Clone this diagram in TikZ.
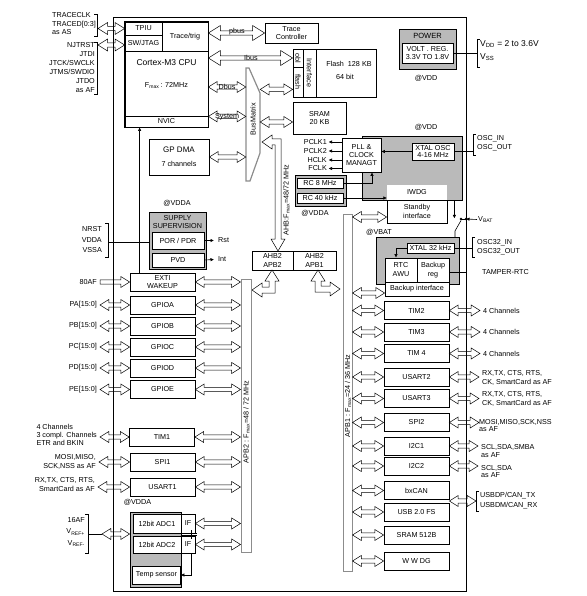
\documentclass[tikz,border=0pt]{standalone}
\usepackage{fontspec}
\setmainfont{Liberation Sans}
\usetikzlibrary{calc,arrows.meta}

\tikzset{
  blk/.style={draw, line width=0.8pt, inner sep=0pt, align=center},
  grayblk/.style={draw, line width=0.8pt, fill=black!27, inner sep=0pt},
  periph/.style={blk, minimum width=65, minimum height=18},
  lbl/.style={inner sep=0pt, align=center},
  llbl/.style={lbl, anchor=east, align=right, inner xsep=3pt},
  rlbl/.style={lbl, anchor=west, align=left, inner xsep=3pt},
  fat/.style={draw, line width=0.5pt},
  sig/.style={line width=0.6pt, -{Latex[length=3.5pt,width=3.5pt]}},
  brk/.style={line width=0.6pt},
  apbbar/.style={draw=black!45, line width=1pt, inner sep=0pt},
}

% hollow double arrow: [head half height]{left end}{right end}
\newcommand{\fatarrow}[3][5.5]{%
  \draw[fat] let \p1=#2, \p2=#3 in
    (\x1,\y1) -- ({\x1+1.6*#1pt},{\y1+#1pt}) -- ({\x1+1.6*#1pt},{\y1+2.2pt})
    -- ({\x2-1.6*#1pt},{\y1+2.2pt}) -- ({\x2-1.6*#1pt},{\y1+#1pt})
    -- (\x2,\y1) -- ({\x2-1.6*#1pt},{\y1-#1pt}) -- ({\x2-1.6*#1pt},{\y1-2.2pt})
    -- ({\x1+1.6*#1pt},{\y1-2.2pt}) -- ({\x1+1.6*#1pt},{\y1-#1pt}) -- cycle;}
% hollow single arrow
\newcommand{\fatarrowr}[2]{%
  \draw[fat] let \p1=#1, \p2=#2 in
    (\x1,{\y1+2.2pt}) -- ({\x2-8.8pt},{\y1+2.2pt}) -- ({\x2-8.8pt},{\y1+5.5pt})
    -- (\x2,\y1) -- ({\x2-8.8pt},{\y1-5.5pt}) -- ({\x2-8.8pt},{\y1-2.2pt})
    -- (\x1,{\y1-2.2pt}) -- cycle;}

\begin{document}
\begin{tikzpicture}[x=1pt,y=-1pt,font=\fontsize{7.2}{8.4}\selectfont]
\useasboundingbox (0,0) rectangle (586,596);

% outer frame
\draw[line width=0.8pt] (113,17) rectangle (466,591);

% CPU
\node[blk, minimum width=37, minimum height=13] (tpiu) at (143.5,28.5) {TPIU};
\node[blk, minimum width=37, minimum height=16] (swjtag) at (143.5,43) {SW/JTAG};
\node[blk, minimum width=46, minimum height=29] (trace) at (185,36.5) {Trace/trig};
\node[blk, minimum width=83, minimum height=65] (cpu) at (166.5,83.5) {};
\node[lbl, font=\fontsize{8.5}{10}\selectfont] (cpuname) at (166.5,63) {Cortex-M3 CPU};
\node[lbl] (cpufreq) at (166.5,86) {F\textsubscript{max}\,: 72MHz};
\node[blk, minimum width=83, minimum height=11] (nvic) at (166.5,121.5) {NVIC};
\draw[line width=1.4pt] (tpiu.north west) rectangle (nvic.south east);

% trace / jtag pins
\node[lbl, anchor=north west, align=left] (tracepins) at (52,12.5) {TRACECLK\\TRACED[0:3]\\as AS};
\draw[brk] (94,14) -- (97,14) -- (97,36) -- (94,36);
\coordinate (tracebr) at (98,28.5);
\fatarrow[6]{(tracebr)}{(tpiu.west)}
\node[lbl, anchor=east, align=right, font=\fontsize{7.2}{9}\selectfont] (jtagpins) at (95,67.5) {NJTRST\\JTDI\\JTCK/SWCLK\\JTMS/SWDIO\\JTDO\\as AF};
\draw[brk] (94,42) -- (97,42) -- (97,94) -- (94,94);
\coordinate (jtagbr) at (98,45);
\fatarrow[6]{(jtagbr)}{(jtagbr -| swjtag.west)}

% trace controller, flash, sram
\node[blk, minimum width=53, minimum height=20, font=\fontsize{7.2}{8}\selectfont] (tracectrl) at (291.5,33) {Trace\\Controller};
\fatarrow[7.5]{(tracectrl.west -| trace.east)}{(tracectrl.west)}
\node[lbl] (pbus) at (237,32) {pbus};

\node[blk, minimum width=83, minimum height=48] (flash) at (334.5,73) {};
\node[blk, minimum width=10, minimum height=18] (obl) at (298,58) {};
\node[lbl, rotate=-90] (obltxt) at (obl) {obl};
\node[blk, minimum width=10, minimum height=30] (flashif) at (298,82) {};
\node[lbl, rotate=-90] (flashtxt) at (flashif) {flash};
\node[blk, minimum width=13, minimum height=48] (iface) at (309.5,73) {};
\node[lbl, rotate=-90] (ifacetxt) at (iface) {Interface};
\node[lbl] (flashsize) at (349,64) {Flash\ \ 128 KB};
\node[lbl] (flashbits) at (345,77) {64 bit};
\fatarrow[7.5]{(obl.west -| cpu.east)}{(obl.west)}
\node[lbl] (ibus) at (251,57.5) {Ibus};

\node[blk, minimum width=53, minimum height=32] (sram) at (319.5,118) {SRAM\\20 KB};

% bus matrix
\node[minimum width=14, minimum height=113, inner sep=0pt] (bm) at (253,124.5) {};
\draw[draw=black!45, line width=1.2pt] (246,68) -- (249,68) -- (260,93) -- (260,153) -- (250,181) -- (246,181) -- cycle;
\node[lbl, rotate=90] (bmtxt) at (253,119) {BusMatrix};

\coordinate (dbus) at ([yshift=-3.5pt]cpu.east);
\fatarrow{(dbus)}{(dbus -| bm.west)}
\node[lbl] (dbustxt) at (227,87) {Dbus};
\fatarrow{(cpu.south east)}{(cpu.south east -| bm.west)}
\node[lbl] (systxt) at (227,116.5) {System};
\coordinate (flashin) at ([yshift=8pt]flash.south west);
\fatarrow{(flashin -| bm.east)}{(flashin)}
\coordinate (sramin) at ([yshift=-4pt]sram.west);
\fatarrow{(sramin -| bm.east)}{(sramin)}

% DMA
\node[blk, minimum width=60, minimum height=36] (dma) at (179,157) {};
\node[lbl, font=\fontsize{8}{9}\selectfont] (dmaname) at (179,150) {GP DMA};
\node[lbl] (dmach) at (179,163.5) {7 channels};
\fatarrow{(dma.east)}{(dma.east -| bm.west)}

% AHB to bridges
\draw[fat] (262,142) -- (272,135) -- (272,139) -- (281,139) -- (281,239) -- (285,239) -- (278,251) -- (271,239) -- (275,239) -- (275,145) -- (272,145) -- (272,149) -- cycle;
\node[lbl, rotate=90] (ahbtxt) at (286.5,200) {AHB:F\textsubscript{max}=48/72 MHz};
\node[blk, minimum width=41, minimum height=19, font=\fontsize{7.2}{8.5}\selectfont] (ahbtwo) at (272.5,260.5) {AHB2\\APB2};
\node[blk, minimum width=43, minimum height=19, font=\fontsize{7.2}{8.5}\selectfont] (ahbone) at (314.5,260.5) {AHB2\\APB1};
\draw[fat] (272,270) -- (279,281) -- (275,281) -- (275,293) -- (262,293) -- (262,297) -- (252,290) -- (262,283) -- (262,287) -- (269,287) -- (269,281) -- (265,281) -- cycle;
\draw[fat] (318,270) -- (325,281) -- (321,281) -- (321,286) -- (330,286) -- (330,282) -- (340,289) -- (330,296) -- (330,292) -- (315,292) -- (315,281) -- (311,281) -- cycle;

% APB bars
\node[apbbar, minimum width=10, minimum height=273] (apbtwo) at (246,415.5) {};
\node[lbl, rotate=90] (apbtwotxt) at (246.5,422) {APB2 : F\textsubscript{max}=48 / 72 MHz};
\node[apbbar, minimum width=9, minimum height=357] (apbone) at (347.5,392.5) {};
\node[lbl, rotate=90] (apbonetxt) at (348,396) {APB1 : F\textsubscript{max}=24 / 36 MHz};

% power
\node[grayblk, minimum width=57, minimum height=40] (power) at (427.5,49) {};
\node[lbl, font=\fontsize{7.5}{9}\selectfont] (powertxt) at (427.5,36) {POWER};
\node[blk, fill=white, minimum width=51, minimum height=20, font=\fontsize{7.2}{8}\selectfont] (vreg) at (427.5,53) {VOLT . REG.\\3.3V TO 1.8V};
\draw[brk] (480,39) -- (477,39) -- (477,67) -- (480,67);
\coordinate (pwrbr) at (477,53);
\draw[brk] (vreg.east) -- (pwrbr);
\node[lbl, anchor=west, align=left, font=\fontsize{8.5}{13}\selectfont] (vdd) at (480,50.5) {V\textsubscript{DD} = 2 to 3.6V\\V\textsubscript{SS}};
\node[lbl] (vddone) at (426,78) {@VDD};
\node[lbl] (vddtwo) at (426,127) {@VDD};

% clocks
\node[grayblk, minimum width=100, minimum height=64] (clkdom) at (412,168) {};
\node[blk, fill=white, minimum width=39, minimum height=34, font=\fontsize{7.2}{8}\selectfont] (pll) at (361.5,155) {PLL \&\\CLOCK\\MANAGT};
\node[blk, fill=white, minimum width=42, minimum height=17, font=\fontsize{7.2}{7.6}\selectfont] (xtal) at (433,151.5) {XTAL OSC\\4-16 MHz};
\node[fill=white, minimum width=60, minimum height=15, inner sep=0pt] (iwdg) at (417,192.5) {IWDG};
\node[blk, minimum width=60, minimum height=23, font=\fontsize{7.2}{8.5}\selectfont] (standby) at (417,211.5) {Standby\\interface};
\draw[sig] (xtal.west) -- (xtal.west -| pll.east);
\node[lbl, anchor=east] (pclk1) at (327,142) {PCLK1};
\node[lbl, anchor=east] (pclk2) at (327,151) {PCLK2};
\node[lbl, anchor=east] (hclk) at (327,160) {HCLK};
\node[lbl, anchor=east] (fclk) at (327,168.5) {FCLK};
\draw[sig] (pclk1.east -| pll.west) -- ([xshift=1.5pt]pclk1.east);
\draw[sig] (pclk2.east -| pll.west) -- ([xshift=1.5pt]pclk2.east);
\draw[sig] (hclk.east -| pll.west) -- ([xshift=1.5pt]hclk.east);
\draw[sig] (fclk.east -| pll.west) -- ([xshift=1.5pt]fclk.east);
\draw[brk] (476,134) -- (473,134) -- (473,155) -- (476,155);
\coordinate (oscbr) at (473,151.5);
\draw[brk] (xtal.east) -- (oscbr);
\node[lbl, anchor=west, align=left, font=\fontsize{7.2}{9}\selectfont] (osc) at (477,143.5) {OSC\_IN\\OSC\_OUT};

\node[grayblk, minimum width=51, minimum height=31] (rcdom) at (320.5,190.5) {};
\node[blk, fill=white, minimum width=46, minimum height=10] (rc8) at (320,183) {RC 8 MHz};
\node[blk, fill=white, minimum width=46, minimum height=10] (rc40) at (320,198) {RC 40 kHz};
\coordinate (pllin) at ([xshift=10.5pt]pll.south);
\draw[sig] (rc8.east) -| (pllin);
\draw[sig] (rc40.east) -- (rc40.east -| iwdg.west);
\node[lbl] (vddarc) at (315,213) {@VDDA};
\coordinate (stbyin) at ([yshift=-5.5pt]standby.west);
\fatarrow{(stbyin -| apbone.east)}{(stbyin)}

% VBAT switch
\coordinate (bkdown) at ([xshift=-8pt]clkdom.south east);
\coordinate (swa) at (461,219);
\coordinate (vbatj) at (466,219);
\draw[sig] (bkdown) -- ++(0,18);
\node[lbl, anchor=west] (vbat) at (478,219.5) {V\textsubscript{BAT}};
\draw[sig] ([xshift=-1pt]vbat.west) -- (vbatj);
\draw[brk] (vbatj) -- (swa);
\fill (swa) circle (1.3pt);
\fill (vbatj) circle (1.3pt);
\draw[brk] ([yshift=-1.5pt]swa) -- (455,231) -- (455,237);
\node[lbl] (vbattxt) at (379,232) {@VBAT};

% backup domain
\node[grayblk, minimum width=83, minimum height=47] (lsedom) at (417.5,260.5) {};
\node[blk, fill=white, minimum width=47, minimum height=10] (xtal32) at (430.5,248) {XTAL 32 kHz};
\node[blk, fill=white, minimum width=32, minimum height=24, font=\fontsize{7.2}{9}\selectfont] (rtc) at (401,270) {RTC\\AWU};
\node[blk, fill=white, minimum width=32, minimum height=24, font=\fontsize{7.2}{9}\selectfont] (bkreg) at (433,270) {Backup\\reg};
\node[blk, fill=white, minimum width=64, minimum height=14] (bkif) at (417,289) {Backup interface};
\coordinate (rtcin) at ([xshift=-5pt]rtc.north);
\draw[sig] (xtal32.west) -| (rtcin);
\draw[brk] (475,237) -- (472,237) -- (472,257) -- (475,257);
\coordinate (osc32br) at (472,248);
\draw[brk] (xtal32.east) -- (osc32br);
\node[lbl, anchor=west, align=left, font=\fontsize{7.2}{9}\selectfont] (osc32) at (477,247) {OSC32\_IN\\OSC32\_OUT};
\node[lbl, anchor=west] (tamper) at (482,272) {TAMPER-RTC};
\coordinate (tamperend) at (467,272);
\draw[brk] (tamperend -| bkreg.east) -- (tamperend);
\coordinate (bkin) at ([yshift=-4pt]bkif.west);
\fatarrow{(bkin -| apbone.east)}{(bkin)}

% supply supervision
\node[lbl] (vddasup) at (177,203) {@VDDA};
\node[grayblk, minimum width=57, minimum height=57] (supply) at (177.5,240.5) {};
\node[lbl, font=\fontsize{7.2}{7.8}\selectfont] (supplytxt) at (177.5,222) {SUPPLY\\SUPERVISION};
\node[blk, fill=white, minimum width=52, minimum height=17] (por) at (178,240.5) {POR / PDR};
\node[blk, fill=white, minimum width=52, minimum height=14] (pvd) at (178,260) {PVD};
\node[lbl, anchor=west] (rst) at (218,240.5) {Rst};
\node[lbl, anchor=west] (int) at (218,259.5) {Int};
\draw[sig] (por.east) -- ([xshift=-4pt]rst.west);
\draw[sig] (pvd.east) -- ([xshift=-4pt]int.west);
\node[lbl, anchor=east, align=right, font=\fontsize{7.2}{10.5}\selectfont] (suppin) at (102,240) {NRST\\VDDA\\VSSA};
\draw[brk] (105,223) -- (108,223) -- (108,257) -- (105,257);
\coordinate (suppbr) at (108,242);
\draw[brk] (suppbr) -- (suppbr -| supply.west);

% APB2 peripherals
\node[periph, font=\fontsize{7.2}{8}\selectfont] (exti) at (162.5,282) {EXTI\\WAKEUP};
\node[periph] (gpioa) at (162.5,305) {GPIOA};
\node[periph] (gpiob) at (162.5,326) {GPIOB};
\node[periph] (gpioc) at (162.5,347) {GPIOC};
\node[periph] (gpiod) at (162.5,368) {GPIOD};
\node[periph] (gpioe) at (162.5,389.5) {GPIOE};
\node[periph] (tim1) at (162,437) {TIM1};
\node[periph] (spi1) at (162.5,462) {SPI1};
\node[periph] (usart1) at (162.5,487) {USART1};
\coordinate (extiup) at ([xshift=10pt]exti.north west);
\draw[sig] (extiup) -- (extiup |- nvic.south);

\fatarrow{(exti.east)}{(exti.east -| apbtwo.west)}
\fatarrow{(gpioa.east)}{(gpioa.east -| apbtwo.west)}
\fatarrow{(gpiob.east)}{(gpiob.east -| apbtwo.west)}
\fatarrow{(gpioc.east)}{(gpioc.east -| apbtwo.west)}
\fatarrow{(gpiod.east)}{(gpiod.east -| apbtwo.west)}
\fatarrow{(gpioe.east)}{(gpioe.east -| apbtwo.west)}
\fatarrow{(tim1.east)}{(tim1.east -| apbtwo.west)}
\fatarrow{(spi1.east)}{(spi1.east -| apbtwo.west)}
\fatarrow{(usart1.east)}{(usart1.east -| apbtwo.west)}

\node[llbl] (afin) at (100,282) {80AF};
\node[llbl] (pa) at (100,305) {PA[15:0]};
\node[llbl] (pb) at (100,326) {PB[15:0]};
\node[llbl] (pc) at (100,347) {PC[15:0]};
\node[llbl] (pd) at (100,368) {PD[15:0]};
\node[llbl] (pe) at (100,389.5) {PE[15:0]};
\node[llbl, align=left, font=\fontsize{7.2}{8}\selectfont] (tim1io) at (100,435) {4 Channels\\3 compl. Channels\\ETR and BKIN};
\node[llbl, font=\fontsize{7.2}{9}\selectfont] (spi1io) at (99,461.5) {MOSI,MISO,\\SCK,NSS as AF};
\node[llbl, font=\fontsize{7.2}{9}\selectfont] (usart1io) at (98,484.5) {RX,TX, CTS, RTS,\\SmartCard as AF};
\fatarrowr{(exti.west -| afin.east)}{(exti.west)}
\fatarrow{(gpioa.west -| pa.east)}{(gpioa.west)}
\fatarrow{(gpiob.west -| pb.east)}{(gpiob.west)}
\fatarrow{(gpioc.west -| pc.east)}{(gpioc.west)}
\fatarrow{(gpiod.west -| pd.east)}{(gpiod.west)}
\fatarrow{(gpioe.west -| pe.east)}{(gpioe.west)}
\fatarrow{(tim1.west -| tim1io.east)}{(tim1.west)}
\fatarrow{(spi1.west -| spi1io.east)}{(spi1.west)}
\fatarrow{(usart1.west -| usart1io.east)}{(usart1.west)}

% ADC
\node[lbl] (vddaadc) at (137.5,502) {@VDDA};
\node[grayblk, minimum width=51, minimum height=75] (adcdom) at (155.5,549.5) {};
\node[blk, fill=white, minimum width=48, minimum height=19] (adc1) at (157,523.5) {12bit ADC1};
\node[blk, fill=white, minimum width=14, minimum height=19] (if1) at (188,523.5) {IF};
\node[blk, fill=white, minimum width=48, minimum height=17] (adc2) at (157,544.5) {12bit ADC2};
\node[blk, fill=white, minimum width=14, minimum height=17] (if2) at (188,544.5) {IF};
\node[blk, fill=white, minimum width=48, minimum height=18] (temp) at (156.5,575) {Temp sensor};
\draw[brk] (if1.south west) -- ++(16,0);
\draw[brk] (if2.north west) -- ++(16,0);
\draw[brk] ([shift={(3pt,3pt)}]if1.south) -- ([shift={(3pt,-3pt)}]if2.north);
\coordinate (tsout) at ([xshift=3pt]if2.south);
\draw[sig] (tsout) |- (temp.east);
\fatarrow{(if1.east)}{(if1.east -| apbtwo.west)}
\fatarrow{(if2.east)}{(if2.east -| apbtwo.west)}
\node[lbl, anchor=east, align=right, font=\fontsize{7.2}{11.5}\selectfont] (adcin) at (85,532) {16AF\\V\textsubscript{REF+}\\V\textsubscript{REF-}};
\draw[brk] (85,514) -- (88,514) -- (88,553) -- (85,553);
\coordinate (adcbr) at (88,534);
\coordinate (adcarr) at (102,534);
\draw[brk] (adcbr) -- (adcarr);
\fatarrow{(adcarr)}{(adcarr -| adcdom.west)}

% APB1 peripherals
\node[periph] (tim2) at (416.5,310.5) {TIM2};
\node[periph] (tim3) at (416.5,332) {TIM3};
\node[periph] (tim4) at (416.5,353.5) {TIM 4};
\node[periph] (usart2) at (416.5,377) {USART2};
\node[periph] (usart3) at (416.5,398.5) {USART3};
\node[periph] (spi2) at (416.5,422.5) {SPI2};
\node[periph] (i2c1) at (416.5,446) {I2C1};
\node[periph] (i2c2) at (416.5,466) {I2C2};
\node[periph] (bxcan) at (416.5,490.5) {bxCAN};
\node[periph] (usb) at (416.5,512) {USB 2.0 FS};
\node[periph] (sramb) at (416.5,535) {SRAM 512B};
\node[periph] (wwdg) at (416.5,561) {W W DG};

\fatarrow{(tim2.west -| apbone.east)}{(tim2.west)}
\fatarrow{(tim3.west -| apbone.east)}{(tim3.west)}
\fatarrow{(tim4.west -| apbone.east)}{(tim4.west)}
\fatarrow{(usart2.west -| apbone.east)}{(usart2.west)}
\fatarrow{(usart3.west -| apbone.east)}{(usart3.west)}
\fatarrow{(spi2.west -| apbone.east)}{(spi2.west)}
\fatarrow{(i2c1.west -| apbone.east)}{(i2c1.west)}
\fatarrow{(i2c2.west -| apbone.east)}{(i2c2.west)}
\fatarrow{(bxcan.west -| apbone.east)}{(bxcan.west)}
\fatarrow{(usb.west -| apbone.east)}{(usb.west)}
\fatarrow{(sramb.west -| apbone.east)}{(sramb.west)}
\fatarrow{(wwdg.west -| apbone.east)}{(wwdg.west)}

\node[rlbl] (tim2io) at (480,310.5) {4 Channels};
\node[rlbl] (tim3io) at (480,332) {4 Channels};
\node[rlbl] (tim4io) at (480,353.5) {4 Channels};
\node[rlbl, font=\fontsize{7.2}{9}\selectfont] (usart2io) at (479,377.5) {RX,TX, CTS, RTS,\\CK, SmartCard as AF};
\node[rlbl, font=\fontsize{7.2}{9}\selectfont] (usart3io) at (479,399) {RX,TX, CTS, RTS,\\CK, SmartCard as AF};
\node[rlbl, inner xsep=0pt, font=\fontsize{7.2}{7.5}\selectfont] (spi2io) at (479,425.5) {MOSI,MISO,SCK,NSS\\as AF};
\node[rlbl, font=\fontsize{7.2}{8}\selectfont] (i2c1io) at (478,451) {SCL,SDA,SMBA\\as AF};
\node[rlbl, font=\fontsize{7.2}{7.5}\selectfont] (i2c2io) at (478,471.5) {SCL,SDA\\as AF};
\fatarrow{(tim2.east)}{(tim2io.west)}
\fatarrow{(tim3.east)}{(tim3io.west)}
\fatarrow{(tim4.east)}{(tim4io.west)}
\fatarrow{(usart2.east)}{(usart2io.west)}
\fatarrow{(usart3.east)}{(usart3io.west)}
\fatarrow{(spi2.east)}{(spi2io.west)}
\fatarrow{(i2c1.east)}{(i2c1io.west)}
\fatarrow{(i2c2.east)}{(i2c2io.west)}

\coordinate (usbio) at (476,501);
\fatarrow{(usbio -| usb.east)}{(usbio)}
\draw[brk] (479,491) -- (476,491) -- (476,511) -- (479,511);
\node[lbl, anchor=west, align=left, font=\fontsize{7.2}{10}\selectfont] (usbtxt) at (480,500.5) {USBDP/CAN\_TX\\USBDM/CAN\_RX};
\end{tikzpicture}
\end{document}
